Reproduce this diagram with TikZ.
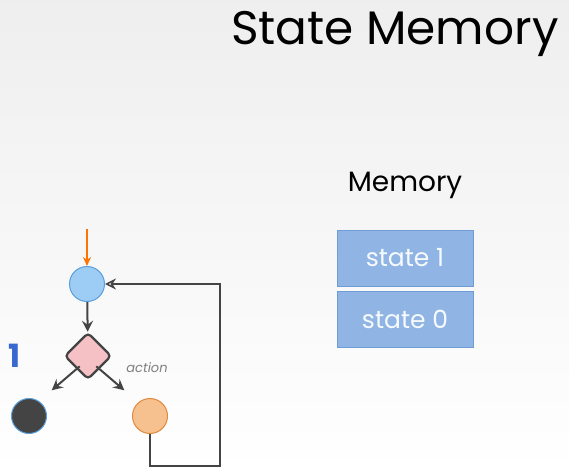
\documentclass[tikz,border=0pt]{standalone}
\usepackage{fontspec}
\setmainfont{Poppins}
\usepackage{tikz}
\usetikzlibrary{shapes, arrows.meta, positioning, calc}

\definecolor{stblue}{HTML}{9DCCF5}
\definecolor{stblueb}{HTML}{5A9FDB}
\definecolor{stpink}{HTML}{F6C1C5}
\definecolor{storange}{HTML}{F6C08F}
\definecolor{storangeb}{HTML}{E08A3E}
\definecolor{stdark}{HTML}{444444}
\definecolor{memfill}{HTML}{90B5E4}
\definecolor{memdraw}{HTML}{6F9BD6}
\definecolor{numblue}{HTML}{3868D0}

\begin{document}
\begin{tikzpicture}[x=1pt, y=-1pt,
            st/.style={circle, minimum size=35pt, inner sep=0pt, line width=1pt},
            dec/.style={diamond, draw=stdark, fill=stpink, line width=2.2pt, rounded corners=4pt, minimum size=47pt, inner sep=0pt},
            memcell/.style={rectangle, draw=memdraw, fill=memfill, minimum width=136pt, minimum height=56pt, text=white!93!memfill, font=\fontsize{25}{30}\selectfont},
            ed/.style={draw=stdark, line width=2pt, -{Stealth[length=11pt, width=11pt, inset=4pt]}},
            lp/.style={draw=stdark, line width=1.5pt}]
            \shade[top color=gray!13, bottom color=white] (0,0) rectangle (569,473);
            \useasboundingbox (0,0) rectangle (569,473);
            % title and memory stack
            \node[anchor=base east, font=\fontsize{47}{53}\selectfont] (title) at (562,45) {State Memory};
            \node[font=\fontsize{28}{34}\selectfont] (memlbl) at (405,185) {Memory};
            \node[memcell] (s1) at (405,258) {state 1};
            \node[memcell] (s0) at (405,319) {state 0};
            % graph
            \node[st, draw=stblueb, fill=stblue] (start) at (87,284) {};
            \node[dec] (choice) at (88,356) {};
            \node[st, draw=stblueb, fill=stdark] (dead) at (29,416) {};
            \node[st, draw=storangeb, fill=storange] (next) at (150,416) {};
            \node[font=\bfseries\fontsize{32}{36}\selectfont, text=numblue] (num) at (15,356) {1};
            \node[font=\itshape\fontsize{13}{15}\selectfont, text=gray] (act) at (147,368) {action};
            \coordinate (entry) at (87,229);
            \coordinate (c1) at (150,466);
            \coordinate (c2) at (220,466);
            \coordinate (c3) at (220,284);
            \draw[draw=orange!90!red, line width=1.6pt, -{Stealth[length=9pt, width=8pt, open]}] (entry) -- (start);
            \draw[ed] (start) -- (choice);
            \draw[ed] (choice.south west) ++(4,-2) -- ++(-28,24);
            \draw[ed] (choice.south east) ++(-4,-2) -- ++(28,24);
            \draw[lp, -{Stealth[length=11pt, width=11pt, open]}] (next.south) -- (c1) -- (c2) -- (c3) -- (start.east);
        \end{tikzpicture}
\end{document}
